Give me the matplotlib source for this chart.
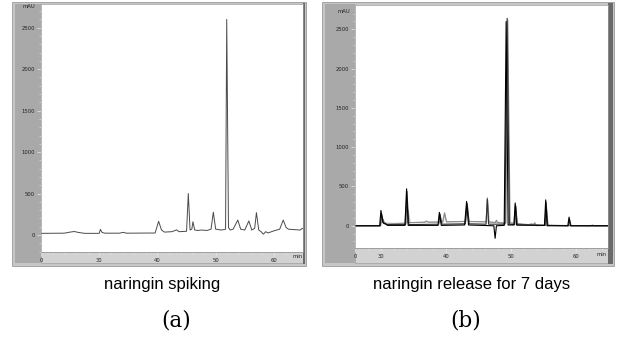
import numpy as np
import matplotlib.pyplot as plt
from matplotlib.patches import Rectangle

W, H = 617, 338

# --- (a) naringin spiking: one trace, time (min) vs absorbance (mAU) ---
t_a = [20.0, 24.0, 25.0, 25.7, 26.5, 27.5, 30.0, 30.2, 30.5, 31.0, 33.5, 34.1, 34.7,
       39.6, 40.2, 40.7, 41.2, 42.5, 43.3, 43.7, 45.0, 45.3, 45.6, 45.9, 46.1, 46.4,
       47.0, 47.5, 48.5, 49.2, 49.6, 50.0, 51.0, 51.7, 51.9, 52.2, 52.5, 53.0, 53.8,
       54.3, 55.0, 55.7, 56.2, 56.7, 57.0, 57.4, 57.8, 58.2, 58.6, 59.0, 60.0, 61.0,
       61.6, 62.1, 62.5, 64.5, 64.9, 65.0]
y_a = [20, 22, 35, 42, 30, 20, 20, 68, 30, 22, 22, 32, 22,
       24, 165, 60, 35, 40, 62, 40, 45, 500, 60, 70, 160, 60,
       55, 60, 55, 70, 275, 70, 60, 70, 2600, 90, 60, 70, 180,
       70, 60, 170, 60, 80, 270, 60, 40, 10, 40, 25, 50, 70,
       180, 90, 70, 60, 80, 80]

# --- (b) naringin release for 7 days: overlaid traces ---
t_b1 = [26, 29.8, 30.0, 30.3, 30.6, 31.0, 33.7, 33.95, 34.2, 38.8, 39.0, 39.3, 42.9, 43.2,
        43.5, 47.4, 47.6, 47.8, 49.0, 49.3, 49.6, 50.5, 50.7, 50.9, 55.2, 55.4, 55.6,
        58.8, 59.0, 59.2, 65]
y_b1 = [0, 0, 195, 40, 30, 5, 5, 470, 5, 5, 170, 5, 10, 310,
        10, 0, -160, 0, 5, 2600, 10, 10, 290, 10, 5, 330, 0,
        0, 110, 0, 0]
t_b2 = [26, 29.9, 30.1, 30.4, 31, 33.8, 34.0, 34.3, 38.9, 39.1, 39.4, 43.0, 43.3, 43.6,
        46.2, 46.4, 46.6, 49.1, 49.45, 49.8, 50.6, 50.8, 51.0, 55.3, 55.45, 55.7,
        58.9, 59.05, 59.3, 65]
y_b2 = [0, 0, 150, 30, 15, 15, 440, 15, 20, 150, 20, 25, 280, 25,
        20, 340, 20, 20, 2640, 20, 15, 250, 10, 5, 300, 5,
        0, 90, 0, 0]
t_b3 = [26, 29.9, 30.1, 30.5, 31,
        33.0, 33.7, 33.9, 34.1, 34.4,
        36.7, 37.0, 37.3, 39.5, 39.8, 40.1,
        43.0, 43.25, 43.5, 46.2, 46.4, 46.6,
        47.6, 47.8, 48.0, 49.2, 49.55, 49.9,
        50.5, 50.7, 51.0, 52.0,
        53.5, 53.7, 53.9, 55.3, 55.5, 55.7,
        62.4, 62.6, 62.8, 65]
y_b3 = [0, 0, 120, 40, 20,
        30, 30, 250, 40, 40,
        45, 60, 45, 50, 165, 50,
        55, 290, 55, 50, 355, 50,
        40, 70, 40, 30, 2620, 40,
        30, 270, 30, 20,
        10, 40, 10, 5, 250, 5,
        0, 10, 0, 0]
t_b4 = [26, 30.0, 30.2, 30.6, 32, 34.0, 34.2, 34.5, 36.9, 37.1, 37.4, 38.8, 39.05, 39.3,
        39.6, 39.85, 40.1, 43.1, 43.3, 43.6, 46.3, 46.45, 46.7, 49.3, 49.5, 49.8,
        50.6, 50.75, 51.0, 52.5, 53.2, 54.0, 55.35, 55.5, 55.8, 65]
y_b4 = [0, 0, 100, 35, 30, 35, 200, 40, 45, 55, 45, 45, 160, 45,
        50, 150, 50, 55, 260, 55, 50, 330, 45, 40, 2580, 35,
        30, 240, 25, 5, 30, 0, 5, 220, 5, 0]

ticks_a = [20, 30, 40, 50, 60]
ticks_b = [26, 30, 40, 50, 60]
tick_labels = ["0", "30", "40", "50", "60"]
yticks = [0, 500, 1000, 1500, 2000, 2500]


def box(x0, y0, x1, y1):
    return [x0 / W, 1 - y1 / H, (x1 - x0) / W, (y1 - y0) / H]


def rect(fig, x0, y0, x1, y1, fc, ec="none", lw=0):
    fig.add_artist(Rectangle((x0 / W, 1 - y1 / H), (x1 - x0) / W, (y1 - y0) / H,
                             transform=fig.transFigure, facecolor=fc,
                             edgecolor=ec, linewidth=lw, zorder=-1))


def panel(fig, frame, area, ylim, xlim, xticks):
    ox0, oy0, ox1, oy1 = frame
    ax0, ay0, ax1, ay1 = area
    rect(fig, ox0, oy0, ox1, oy1, "#c6c6c6", "#9a9a9a", 0.6)
    rect(fig, ox0 + 3, oy0 + 2, ax0, oy1 - 3, "#a9a9a9")
    rect(fig, ax0, ay1, ax1, oy1 - 3, "#d2d2d2", "#a0a0a0", 0.5)
    rect(fig, ax1, oy0 + 1, ox1 - 1, oy1 - 2, "#6a6a6a")
    ax = fig.add_axes(box(ax0, ay0, ax1, ay1))
    ax.set_facecolor("white")
    ax.set_xlim(*xlim)
    ax.set_ylim(*ylim)
    for s in ax.spines.values():
        s.set_color("#9a9a9a")
        s.set_linewidth(0.5)
    ax.set_yticks(yticks)
    ax.set_yticks(np.arange(-200, 2800, 100), minor=True)
    ax.set_xticks(xticks)
    ax.set_xticklabels(tick_labels)
    ax.set_xticks(np.arange(xlim[0], xlim[1], 2), minor=True)
    ax.tick_params(which="major", length=3, width=0.5, color="#e8e8e8",
                   labelsize=3.8, labelcolor="#222222", pad=1.5)
    ax.tick_params(which="minor", length=1.6, width=0.4, color="#e8e8e8")
    ax.tick_params(axis="x", which="major", pad=1.0)
    return ax


fig = plt.figure(figsize=(W / 100, H / 100), dpi=100)
fig.patch.set_facecolor("white")

# panel (a)
ax_a = panel(fig, (12, 2, 306, 266), (41, 4, 303, 252), (-205, 2786), (20, 65), ticks_a)
ax_a.plot(t_a, y_a, color="#4a4a4a", lw=0.7)
fig.text(35 / W, 1 - 7 / H, "mAU", fontsize=3.8, ha="right", va="center", color="#222222")
fig.text(298 / W, 1 - 257 / H, "min", fontsize=3.8, ha="center", va="center", color="#222222")

# panel (b)
ax_b = panel(fig, (322, 2, 614, 266), (355, 5, 608, 248), (-283, 2810), (26, 65), ticks_b)
ax_b.plot(t_b4, y_b4, color="#b8b8b8", lw=0.8)
ax_b.plot(t_b3, y_b3, color="#8a8a8a", lw=0.8)
ax_b.plot(t_b2, y_b2, color="#333333", lw=0.8)
ax_b.plot(t_b1, y_b1, color="#000000", lw=0.8)
fig.text(350 / W, 1 - 11.5 / H, "mAU", fontsize=3.8, ha="right", va="center", color="#222222")
fig.text(602 / W, 1 - 255 / H, "min", fontsize=3.8, ha="center", va="center", color="#222222")

# captions
fig.text(162 / W, 1 - 285 / H, "naringin spiking", fontsize=12, ha="center", va="center",
         family="Liberation Sans")
fig.text(472 / W, 1 - 285 / H, "naringin release for 7 days", fontsize=12, ha="center",
         va="center", family="Liberation Sans")
fig.text(176 / W, 1 - 320 / H, "(a)", fontsize=15.5, ha="center", va="center",
         family="DejaVu Serif")
fig.text(466 / W, 1 - 321 / H, "(b)", fontsize=15.5, ha="center", va="center",
         family="DejaVu Serif")

fig.savefig("out.png", dpi=100)
